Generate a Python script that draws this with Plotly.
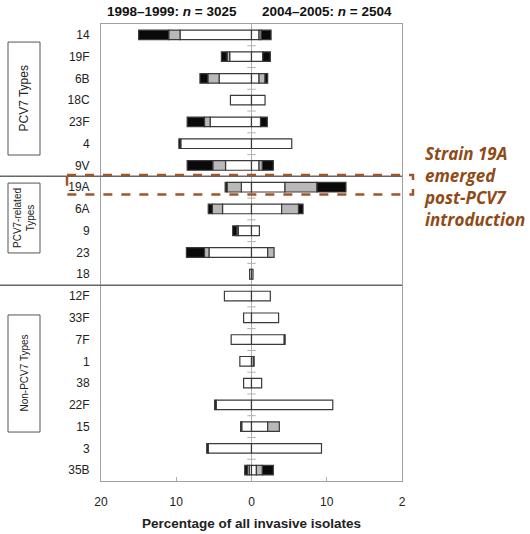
import plotly.graph_objects as go

categories = ["14", "19F", "6B", "18C", "23F", "4", "9V",
              "19A", "6A", "9", "23", "18",
              "12F", "33F", "7F", "1", "38", "22F", "15", "3", "35B"]

# 1998–1999 (drawn to the left), percentages
left_white = [9.5, 2.9, 4.3, 2.8, 5.5, 9.4, 3.45,
              1.35, 3.85, 1.75, 5.65, 0.25,
              3.6, 1.05, 2.7, 1.55, 1.05, 4.7, 1.3, 5.75, 0.3]
left_gray = [1.5, 0.35, 1.5, 0, 0.75, 0, 1.7,
             1.9, 1.35, 0.2, 0.6, 0,
             0, 0, 0, 0, 0, 0, 0, 0, 0.25]
left_black = [4.0, 0.75, 1.05, 0, 2.3, 0.25, 3.4,
              0.25, 0.55, 0.55, 2.4, 0,
              0, 0, 0, 0, 0, 0.2, 0.15, 0.2, 0.35]

# 2004–2005 (drawn to the right), percentages
right_white = [1.0, 1.5, 1.0, 1.8, 1.2, 5.35, 1.0,
               4.45, 4.0, 1.05, 2.15, 0.2,
               2.5, 3.6, 4.35, 0.25, 1.35, 10.8, 2.15, 9.3, 0.65]
right_gray = [0.3, 0, 0.8, 0, 0, 0, 0.45,
              4.25, 2.25, 0, 0.85, 0,
              0, 0, 0, 0, 0, 0, 1.55, 0, 0.8]
right_black = [1.3, 1.0, 0.35, 0, 0.9, 0, 1.45,
               3.85, 0.6, 0, 0, 0,
               0, 0, 0.12, 0.1, 0, 0, 0, 0, 1.45]

x_tickvals = [-20, -10, 0, 10, 20]
x_ticktext = ["20", "10", "0", "10", "2"]

groups = [("PCV7 Types", 0, 6), ("PCV7-related<br>Types", 7, 11), ("Non-PCV7 Types", 12, 20)]

ypos = list(range(len(categories)))
OUT = "#3a3a3a"
BROWN = "#8f4a17"
DASH = "#a0562a"


def seg(vals, sign):
    return [sign * v if v else None for v in vals]


fig = go.Figure()
for vals, sign, col in [(left_white, -1, "#ffffff"), (left_gray, -1, "#b9b9b9"), (left_black, -1, "#0a0a0a"),
                        (right_white, 1, "#ffffff"), (right_gray, 1, "#b9b9b9"), (right_black, 1, "#0a0a0a")]:
    fig.add_trace(go.Bar(y=ypos, x=seg(vals, sign), orientation="h", width=0.44,
                         marker=dict(color=col, line=dict(color=OUT, width=1.2)),
                         showlegend=False, hoverinfo="skip"))

# small ticks on the zero line between rows
fig.add_trace(go.Scatter(x=[0] * (len(categories) - 1), y=[i + 0.5 for i in range(len(categories) - 1)],
                         mode="markers", marker=dict(symbol="line-ew-open", size=6, color="#b0b0b0",
                                                     line=dict(color="#b0b0b0", width=1)),
                         showlegend=False, hoverinfo="skip"))

fig.update_layout(
    width=530, height=534,
    margin=dict(l=101, r=128, t=24, b=53),
    paper_bgcolor="white", plot_bgcolor="white",
    barmode="relative",
    font=dict(family="Liberation Sans, Arial, sans-serif", size=12, color="#222222"),
    xaxis=dict(range=[-20, 20], tickvals=x_tickvals, ticktext=x_ticktext, automargin=False,
               showgrid=False, zeroline=True, zerolinecolor="#b0b0b0", zerolinewidth=1,
               showline=True, linecolor="#a0a0a0", linewidth=1, mirror=True,
               ticks="inside", ticklen=4, tickcolor="#b0b0b0",
               ticklabelstandoff=10,
               tickfont=dict(size=12, color="#222222"),
               title=dict(text="<b>Percentage of all invasive isolates</b>",
                          font=dict(size=13.5, color="#222222"), standoff=10)),
    yaxis=dict(range=[len(categories) - 0.5, -0.5], tickvals=ypos, ticktext=categories, automargin=False,
               showgrid=False, zeroline=False,
               showline=True, linecolor="#a0a0a0", linewidth=1, mirror=True,
               ticks="", ticklabelstandoff=8,
               tickfont=dict(size=12, color="#222222")),
)

# separators between groups
for b in [groups[0][2] + 0.5, groups[1][2] + 0.5]:
    fig.add_shape(type="line", xref="paper", yref="y", x0=-101 / 301, x1=1.0, y0=b, y1=b,
                  line=dict(color="#666666", width=1.5))

# group label boxes (row extents)
box_rows = [(0.33, 5.52), (6.81, 10.02), (12.87, 18.25)]
for (label, a, b), (y0, y1) in zip(groups, box_rows):
    fig.add_shape(type="rect", xref="paper", yref="y", x0=-93 / 301, x1=-61 / 301, y0=y0, y1=y1,
                  line=dict(color="#555555", width=1), fillcolor="rgba(0,0,0,0)")
    fig.add_annotation(xref="paper", yref="y", x=-77 / 301, y=(y0 + y1) / 2, text=label,
                       textangle=-90, showarrow=False, xanchor="center", yanchor="middle",
                       font=dict(size=12 if a == 0 else 10, color="#222222"))

# header texts
for xv, txt in [(-10.5, "<b>1998–1999: <i>n</i> = 3025</b>"), (10, "<b>2004–2005: <i>n</i> = 2504</b>")]:
    fig.add_annotation(xref="x", yref="paper", x=xv, y=(481 - 12) / 457, yanchor="middle",
                       showarrow=False, text=txt, font=dict(size=13.5, color="#111111"))

# dashed highlight around 19A
i19 = categories.index("19A")
fig.add_shape(type="rect", xref="paper", yref="y", x0=-34 / 301, x1=312 / 301,
              y0=i19 - 0.56, y1=i19 + 0.33,
              line=dict(color=DASH, width=2.5, dash="dash"), fillcolor="rgba(0,0,0,0)")

fig.add_annotation(xref="paper", yref="y", x=321 / 301, y=i19 - 0.05, xanchor="left", yanchor="middle",
                   align="left", showarrow=False,
                   text="<b><i>Strain 19A<br>emerged<br>post-PCV7<br>introduction</i></b>",
                   font=dict(family="Open Sans", size=17, color=BROWN))

fig.write_html("out.html")
